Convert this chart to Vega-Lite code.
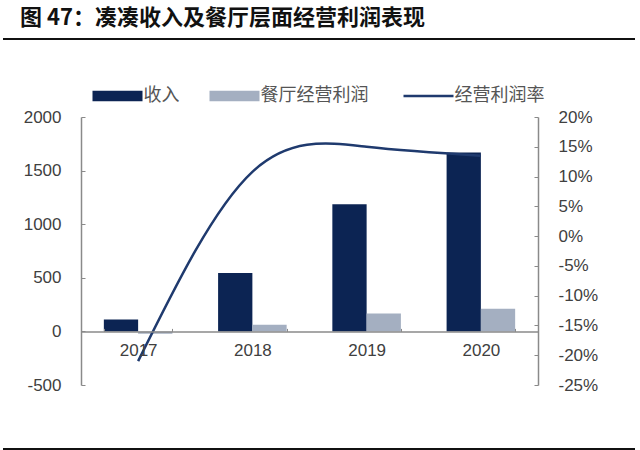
{
  "$schema": "https://vega.github.io/schema/vega-lite/v6.json",
  "background": "#ffffff",
  "padding": {"left": 3, "top": 6, "right": 3, "bottom": 0},
  "title": {
    "text": "图 47：凑凑收入及餐厅层面经营利润表现",
    "anchor": "start",
    "frame": "group",
    "font": "Noto Sans CJK SC",
    "fontSize": 22,
    "fontWeight": "bold",
    "color": "#111111",
    "dx": 17,
    "offset": 6.3
  },
  "config": {"view": {"stroke": null}, "font": "Liberation Sans"},
  "datasets": {
    "blank": [{}],
    "bars": [
      {"year": "2017", "series": "收入", "value": 112},
      {"year": "2017", "series": "餐厅经营利润", "value": -22},
      {"year": "2018", "series": "收入", "value": 544},
      {"year": "2018", "series": "餐厅经营利润", "value": 62},
      {"year": "2019", "series": "收入", "value": 1186},
      {"year": "2019", "series": "餐厅经营利润", "value": 168},
      {"year": "2020", "series": "收入", "value": 1670},
      {"year": "2020", "series": "餐厅经营利润", "value": 211}
    ],
    "margin": [
      {"year": "2017", "rate": -0.21},
      {"year": "2018", "rate": 0.108},
      {"year": "2019", "rate": 0.15},
      {"year": "2020", "rate": 0.135}
    ]
  },
  "spacing": 45,
  "resolve": {"scale": {"color": "independent"}, "legend": {"color": "independent"}},
  "vconcat": [
    {
      "width": 632,
      "height": 2,
      "view": {"fill": "#111111", "stroke": null},
      "data": {"name": "blank"},
      "mark": {"type": "point", "opacity": 0},
      "encoding": {}
    },
    {
      "bounds": "flush",
      "spacing": 0,
      "resolve": {"scale": {"color": "independent"}, "legend": {"color": "independent"}},
      "hconcat": [
        {
          "width": 78,
          "height": 284,
          "view": {"fill": "#ffffff", "stroke": null},
          "data": {"name": "blank"},
          "mark": {"type": "point", "opacity": 0},
          "encoding": {}
        },
        {
          "width": 457,
          "height": 268,
          "layer": [
            {
              "data": {"name": "bars"},
              "mark": {"type": "bar"},
              "encoding": {
                "x": {
                  "field": "year",
                  "type": "nominal",
                  "sort": null,
                  "scale": {"paddingInner": 0.4, "paddingOuter": 0.2},
                  "axis": {
                    "title": null,
                    "orient": "bottom",
                    "offset": -53.6,
                    "zindex": 1,
                    "labelAngle": 0,
                    "domainColor": "#8a8a8a",
                    "domainWidth": 1.5,
                    "tickBand": "extent",
                    "tickColor": "#8a8a8a",
                    "tickSize": -3,
                    "labelPadding": 14,
                    "labelFontSize": 17,
                    "labelColor": "#404040"
                  }
                },
                "xOffset": {
                  "field": "series",
                  "type": "nominal",
                  "sort": ["收入", "餐厅经营利润"],
                  "scale": {"paddingInner": 0, "paddingOuter": 0}
                },
                "y": {
                  "field": "value",
                  "type": "quantitative",
                  "scale": {"domain": [-500, 2000], "nice": false, "zero": false},
                  "axis": {
                    "title": null,
                    "orient": "left",
                    "grid": false,
                    "values": [-500, 0, 500, 1000, 1500, 2000],
                    "labelExpr": "datum.value + ''",
                    "domainColor": "#8a8a8a",
                    "domainWidth": 1.5,
                    "tickColor": "#8a8a8a",
                    "tickSize": -4,
                    "labelPadding": 24,
                    "labelFontSize": 17,
                    "labelColor": "#404040"
                  }
                },
                "color": {
                  "field": "series",
                  "type": "nominal",
                  "scale": {
                    "domain": ["收入", "餐厅经营利润", "经营利润率"],
                    "range": ["#0c2453", "#a4afc1", "#1f3a6e"]
                  },
                  "legend": {
                    "orient": "none",
                    "legendX": 27.5,
                    "legendY": -30,
                    "direction": "horizontal",
                    "title": null,
                    "padding": 0,
                    "labelFont": "Noto Sans CJK SC",
                    "labelFontSize": 18,
                    "labelColor": "#555555",
                    "labelOffset": 17,
                    "labelLimit": 300,
                    "columnPadding": 30,
                    "symbolSize": 2500,
                    "encode": {
                      "symbols": {
                        "update": {
                          "shape": {"signal": "datum.value == '经营利润率' ? 'M-1,0H1' : 'M-1,-0.21H1V0.21H-1Z'"},
                          "fill": {"signal": "datum.value == '收入' ? '#0c2453' : datum.value == '餐厅经营利润' ? '#a4afc1' : 'transparent'"},
                          "stroke": {"signal": "datum.value == '经营利润率' ? '#1f3a6e' : 'transparent'"},
                          "strokeWidth": {"signal": "datum.value == '经营利润率' ? 2.5 : 0"},
                          "opacity": {"value": 1}
                        }
                      }
                    }
                  }
                }
              }
            },
            {
              "data": {"name": "margin"},
              "mark": {"type": "line", "interpolate": "natural", "strokeWidth": 2.5},
              "encoding": {
                "x": {"field": "year", "type": "nominal", "sort": null},
                "y": {
                  "field": "rate",
                  "type": "quantitative",
                  "scale": {"domain": [-0.25, 0.2], "nice": false, "zero": false},
                  "axis": {
                    "title": null,
                    "orient": "right",
                    "grid": false,
                    "values": [-0.25, -0.2, -0.15, -0.1, -0.05, 0, 0.05, 0.1, 0.15, 0.2],
                    "labelExpr": "round(datum.value * 100) + '%'",
                    "domainColor": "#8a8a8a",
                    "domainWidth": 1.5,
                    "tickColor": "#8a8a8a",
                    "tickSize": -4,
                    "labelPadding": 24,
                    "labelFontSize": 17,
                    "labelColor": "#404040"
                  }
                },
                "color": {"datum": "经营利润率", "type": "nominal"}
              }
            }
          ],
          "resolve": {"scale": {"y": "independent"}}
        }
      ]
    },
    {
      "width": 632,
      "height": 2,
      "view": {"fill": "#111111", "stroke": null},
      "data": {"name": "blank"},
      "mark": {"type": "point", "opacity": 0},
      "encoding": {}
    }
  ]
}
